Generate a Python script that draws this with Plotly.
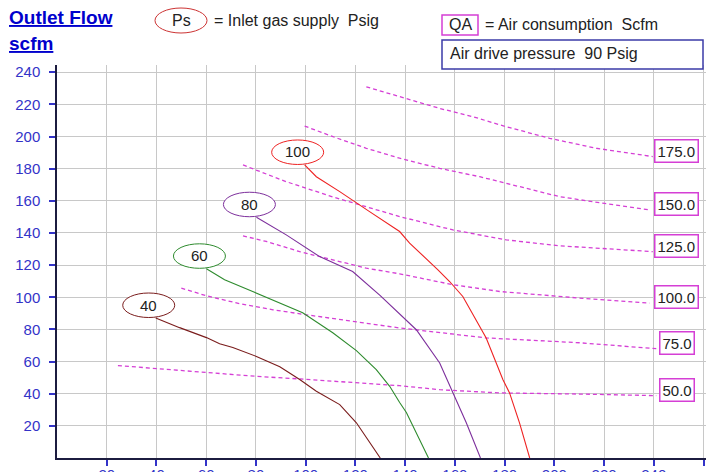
import plotly.graph_objects as go

# canvas / plot area in pixels
W, H = 706, 472
ML, MR, MT, MB = 57, 0, 65, 14
PW, PH = W - ML - MR, H - MT - MB

FONT = "Arial, 'Liberation Sans', sans-serif"
TICK_BLUE = "#3333c8"
QA_COLOR = "#d53fd5"

# axes
x_ticks = [20, 40, 60, 80, 100, 120, 140, 160, 180, 200, 220, 240, 260]
y_ticks = [20, 40, 60, 80, 100, 120, 140, 160, 180, 200, 220, 240]

# inlet gas supply curves (Ps, psig)
ps40_x = [39.7, 49.3, 60.1, 65.4, 70.7, 80.2, 89.6, 97.6, 104.3, 113.7, 120.4, 130.0]
ps40_y = [87.1, 81.1, 74.9, 71.1, 68.8, 63.2, 56.8, 48.8, 41.5, 33.2, 21.9, 0]

ps60_x = [60.1, 67.4, 78.7, 88.2, 98.8, 110.9, 120.4, 128.4, 133.8, 137.8, 140.5, 149.4]
ps60_y = [117.7, 110.9, 103.6, 97.4, 90.4, 77.9, 66.8, 55.0, 44.6, 34.5, 28.3, 0]

ps80_x = [80.2, 92.2, 105.6, 118.9, 130.0, 137.8, 144.5, 153.9, 159.2, 164.6, 170.3]
ps80_y = [149.8, 138.8, 125.3, 116.0, 101.0, 89.5, 79.8, 59.1, 40.5, 21.9, 0]

ps100_x = [99.6, 104.3, 113.7, 120.4, 125.7, 137.8, 141.8, 153.2, 157.9, 163.2, 172.6, 179.3, 182.0, 186.0, 190.1]
ps100_y = [182.3, 175.0, 165.7, 158.5, 153.3, 140.9, 133.7, 117.1, 109.8, 100.5, 74.7, 48.8, 40.5, 21.9, 0]

# air consumption curves (QA, scfm)
qa50_x = [24.5, 44.0, 60.1, 80.2, 97.6, 117.7, 137.8, 153.9, 178.0, 210.1, 241.0]
qa50_y = [57.5, 55.0, 53.3, 50.8, 49.2, 47.1, 45.0, 42.5, 40.5, 39.8, 38.8]

qa75_x = [50.0, 60.1, 73.5, 86.9, 100.3, 119.0, 137.8, 172.6, 210.2, 241.0]
qa75_y = [105.7, 100.9, 96.0, 92.2, 89.1, 85.0, 80.9, 74.7, 71.7, 68.0]

qa100_x = [74.8, 84.2, 97.6, 111.0, 124.4, 137.8, 159.2, 178.0, 210.1, 238.3]
qa100_y = [138.2, 134.7, 128.4, 123.3, 118.1, 114.6, 107.8, 103.6, 99.5, 96.4]

qa125_x = [74.8, 92.2, 111.0, 137.8, 159.2, 180.7, 202.1, 239.6]
qa125_y = [182.3, 171.9, 162.4, 150.2, 141.9, 135.7, 132.0, 128.4]

qa150_x = [99.6, 111.0, 124.4, 137.8, 153.9, 170.0, 186.1, 202.1, 219.5, 238.3]
qa150_y = [206.5, 199.9, 192.7, 186.5, 180.2, 175.0, 168.8, 162.6, 158.5, 154.3]

qa175_x = [124.4, 137.8, 153.9, 167.3, 180.7, 198.1, 216.9, 239.6]
qa175_y = [230.9, 224.7, 217.5, 212.3, 206.1, 198.9, 192.7, 187.5]

ps_curves = [
    (40, ps40_x, ps40_y, "#7a1c1c"),
    (60, ps60_x, ps60_y, "#2e8b2e"),
    (80, ps80_x, ps80_y, "#7d2f9c"),
    (100, ps100_x, ps100_y, "#ee2222"),
]
qa_curves = [
    (50, qa50_x, qa50_y),
    (75, qa75_x, qa75_y),
    (100, qa100_x, qa100_y),
    (125, qa125_x, qa125_y),
    (150, qa150_x, qa150_y),
    (175, qa175_x, qa175_y),
]
QA_LABEL_X = 249.3


def pxx(x):
    return (x - ML) / PW


def pxy(y):
    return (H - MB - y) / PH


fig = go.Figure()
shapes = []
annotations = []

for qa, xs, ys in qa_curves:
    fig.add_trace(go.Scatter(x=xs, y=ys, mode="lines",
                             line=dict(color=QA_COLOR, width=1.3, dash="4px,3px"),
                             hoverinfo="skip"))
    annotations.append(dict(x=QA_LABEL_X, y=ys[-1], xref="x", yref="y", yshift=6,
                            text=f"{qa:.1f}", showarrow=False,
                            xanchor="center", yanchor="middle",
                            font=dict(size=15, color="#222222", family=FONT),
                            bordercolor=QA_COLOR, borderwidth=1.5, borderpad=2,
                            bgcolor="white"))

for ps, xs, ys, col in ps_curves:
    fig.add_trace(go.Scatter(x=xs, y=ys, mode="lines",
                             line=dict(color=col, width=1.1), hoverinfo="skip"))
    shapes.append(dict(type="circle", xref="x", yref="y",
                       xsizemode="pixel", ysizemode="pixel",
                       xanchor=xs[0], yanchor=ys[0],
                       x0=-33, x1=19, y0=0.5, y1=25,
                       line=dict(color=col, width=1), fillcolor="white"))
    annotations.append(dict(x=xs[0], y=ys[0], xref="x", yref="y",
                            xshift=-7, yshift=13, text=str(ps), showarrow=False,
                            xanchor="center", yanchor="middle",
                            font=dict(size=15, color="#222222", family=FONT)))

# header
shapes += [
    dict(type="circle", xref="paper", yref="paper",
         x0=pxx(155), x1=pxx(207), y0=pxy(33), y1=pxy(8),
         line=dict(color="#cc3333", width=1)),
    dict(type="rect", xref="paper", yref="paper",
         x0=pxx(442), x1=pxx(478), y0=pxy(35), y1=pxy(15),
         line=dict(color=QA_COLOR, width=1.5)),
    dict(type="rect", xref="paper", yref="paper",
         x0=pxx(442), x1=pxx(703), y0=pxy(69), y1=pxy(40),
         line=dict(color="#3b3ba8", width=1.5), fillcolor="white"),
]

hdr = dict(size=16, color="#222222", family=FONT)
title_font = dict(size=19, color="#0000cc", family=FONT)


def header_text(text, x, y, font, anchor="left"):
    return dict(x=pxx(x), y=pxy(y), xref="paper", yref="paper",
                xanchor=anchor, yanchor="middle", text=text,
                showarrow=False, font=font)


annotations += [
    header_text("<b><u>Outlet Flow</u></b>", 7, 18, title_font),
    header_text("<b><u>scfm</u></b>", 7, 43, title_font),
    header_text("Ps", 181, 20.5, hdr, "center"),
    header_text("= Inlet gas supply\u00a0 Psig", 212, 20.5, hdr),
    header_text("QA", 460, 25, hdr, "center"),
    header_text("= Air consumption\u00a0 Scfm", 483, 24, hdr),
    header_text("Air drive pressure\u00a0 90 Psig", 448, 54, hdr),
]

axis_style = dict(showgrid=True, gridcolor="#c8c8c8", gridwidth=1,
                  showline=True, linecolor="#1c1c40", linewidth=1.5,
                  ticks="outside", ticklen=6, tickwidth=1.5, tickcolor=TICK_BLUE,
                  tickfont=dict(size=15, color=TICK_BLUE, family=FONT),
                  zeroline=False, fixedrange=True)

fig.update_layout(
    width=W, height=H,
    margin=dict(l=ML, r=MR, t=MT, b=MB, autoexpand=False),
    paper_bgcolor="white", plot_bgcolor="white",
    showlegend=False,
    xaxis=dict(range=[0, 261], tickvals=x_ticks, ticklabelstandoff=-4, **axis_style),
    yaxis=dict(range=[0, 244.5], tickvals=y_ticks, ticklabelstandoff=6, **axis_style),
    shapes=shapes,
    annotations=annotations,
    font=dict(family=FONT),
)

fig.write_html("out.html", config={"displayModeBar": False},
               post_script="document.body.style.margin='0px';document.body.style.overflow='hidden';")
